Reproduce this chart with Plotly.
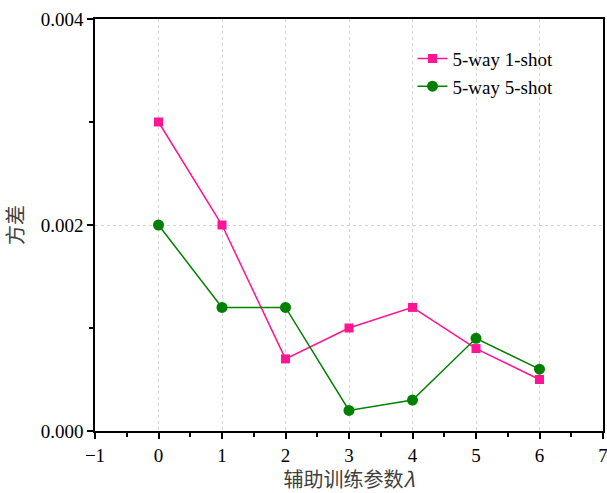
import plotly.graph_objects as go

x_vals = [0, 1, 2, 3, 4, 5, 6]
one_shot = [0.003, 0.002, 0.0007, 0.001, 0.0012, 0.0008, 0.0005]
five_shot = [0.002, 0.0012, 0.0012, 0.0002, 0.0003, 0.0009, 0.0006]
series_names = ["5-way 1-shot", "5-way 5-shot"]
y_ticks = [0, 0.002, 0.004]
y_tick_labels = ["0.000", "0.002", "0.004"]
x_ticks = [-1, 0, 1, 2, 3, 4, 5, 6, 7]
x_tick_labels = ["\u22121", "0", "1", "2", "3", "4", "5", "6", "7"]

serif = "Liberation Serif, Times New Roman, serif"

fig = go.Figure()
fig.add_trace(go.Scatter(
    x=x_vals, y=one_shot, name=series_names[0], mode="lines+markers",
    line=dict(color="#FF1493", width=1.5),
    marker=dict(symbol="square", size=9, color="#FF1493"),
))
fig.add_trace(go.Scatter(
    x=x_vals, y=five_shot, name=series_names[1], mode="lines+markers",
    line=dict(color="#008000", width=1.5),
    marker=dict(symbol="circle", size=11, color="#008000"),
))

axis_common = dict(
    showline=True, linecolor="black", linewidth=1.5, mirror=True,
    ticks="outside", ticklen=6, tickwidth=1.5, tickcolor="black",
    showgrid=True, gridcolor="#d2d2d2", griddash="3px,3px", gridwidth=1,
    zeroline=False, automargin=False, ticklabeloverflow="allow",
    tickfont=dict(family=serif, size=19, color="black"),
)

fig.update_xaxes(
    range=[-1, 7], tickvals=x_ticks, ticktext=x_tick_labels,
    minor=dict(ticks="outside", ticklen=4, tickwidth=1.5, tickcolor="black",
               dtick=0.5, tick0=-1, showgrid=False),
    title=dict(text="辅助训练参数<i>λ</i>",
               font=dict(family="Noto Sans CJK SC, " + serif, size=20, color="#404040"),
               standoff=11),
    **axis_common,
)
fig.update_yaxes(
    range=[0, 0.004], tickvals=y_ticks, ticktext=y_tick_labels,
    minor=dict(ticks="outside", ticklen=4, tickwidth=1.5, tickcolor="black",
               dtick=0.001, tick0=0, showgrid=False),
    title=dict(text="方差", font=dict(family="Noto Sans CJK SC", size=20, color="#404040"),
               standoff=13),
    **axis_common,
)

fig.update_layout(
    width=607, height=493,
    margin=dict(l=95, r=4, t=19, b=62),
    paper_bgcolor="white", plot_bgcolor="white",
    showlegend=True,
    legend=dict(x=0.625, y=0.95, xanchor="left", yanchor="top",
                bgcolor="rgba(0,0,0,0)",
                font=dict(family=serif, size=19, color="black"),
                tracegroupgap=0),
)

fig.write_html("out.html",
               config={"displayModeBar": False},
               post_script="document.body.style.margin='0';document.body.style.overflow='hidden';")
